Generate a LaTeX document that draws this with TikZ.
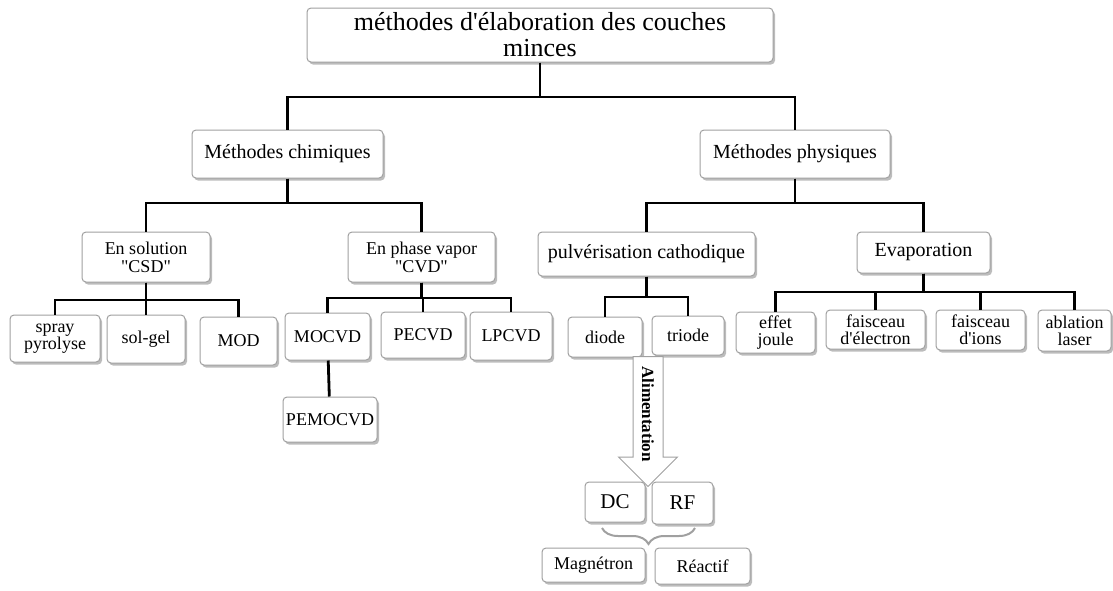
\documentclass[tikz,border=0pt]{standalone}
\usepackage{fontspec}
\setmainfont[Ligatures=TeXOff]{Liberation Serif}
\usetikzlibrary{positioning, shapes.arrows, shadows, decorations.pathreplacing, calc}
\definecolor{cframe}{HTML}{A0A0A0}
\definecolor{cshade}{HTML}{7A7A7A}
\tikzset{
  every picture/.style={line width=1pt},
  box/.style={draw=cframe, fill=white, rounded corners=4pt, align=center, inner sep=1pt,
    drop shadow={shadow xshift=2pt, shadow yshift=-2.5pt, fill=cshade, opacity=.5}},
  link/.style={draw=black, line width=2.8pt},
  brc/.style={draw=cframe, line width=2pt, decorate, decoration={brace, amplitude=16pt, mirror}},
}

\begin{document}
\begin{tikzpicture}[x=1pt, y=-1pt,
  lvlzero/.style={box, font=\fontsize{26}{26}\selectfont},
  lvlone/.style={box, font=\fontsize{20}{21}\selectfont},
  lvltwo/.style={box, font=\fontsize{18}{18}\selectfont},
  leaf/.style={box, font=\fontsize{18}{17}\selectfont},
  feed/.style={box, font=\fontsize{21}{21}\selectfont},
  alim/.style={single arrow, draw=cframe, fill=white, line width=1pt, rotate=-90,
    single arrow head extend=14.5pt, minimum height=130pt, text height=12pt, text depth=0pt,
    inner ysep=8.5pt, font=\bfseries\fontsize{17}{17}\selectfont}]
  \useasboundingbox (0,0) rectangle (1113,590);
  % ---------- title and the two families ----------
  \node[lvlzero, minimum width=466, minimum height=54] (top) at (540,35) {méthodes d'élaboration des couches\\minces};
  \node[lvlone, minimum width=191, minimum height=48] (chim) at (287.5,154) {Méthodes chimiques};
  \node[lvlone, minimum width=190, minimum height=48] (phys) at (795,154) {Méthodes physiques};
  % ---------- chemical side ----------
  \node[lvltwo, minimum width=128, minimum height=50] (sol) at (146,257) {En solution\\"CSD"};
  \node[lvltwo, minimum width=147, minimum height=50] (vap) at (421.5,257) {En phase vapor\\"CVD"};
  \node[leaf, minimum width=90, minimum height=47] (spray) at (55,338.5) {spray\\pyrolyse};
  \node[leaf, minimum width=78, minimum height=48] (solgel) at (146,339) {sol-gel};
  \node[leaf, minimum width=77, minimum height=48] (mod) at (238.5,341) {MOD};
  \node[leaf, minimum width=85, minimum height=47] (mocvd) at (327.5,336.5) {MOCVD};
  \node[leaf, minimum width=84, minimum height=46] (pecvd) at (423,335) {PECVD};
  \node[leaf, minimum width=82, minimum height=48] (lpcvd) at (511,336) {LPCVD};
  \node[leaf, minimum width=94, minimum height=45] (pemocvd) at (330,419.5) {PEMOCVD};
  % ---------- physical side ----------
  \node[lvlone, minimum width=217, minimum height=44] (pulv) at (646.5,254) {pulvérisation cathodique};
  \node[lvlone, minimum width=133, minimum height=41] (evap) at (923.5,252.5) {Evaporation};
  \node[leaf, minimum width=74, minimum height=40] (diode) at (605,337) {diode};
  \node[leaf, minimum width=72, minimum height=39] (triode) at (688,335.5) {triode};
  \node[leaf, minimum width=79, minimum height=41] (effet) at (775.5,332.5) {effet\\joule};
  \node[leaf, minimum width=99, minimum height=39] (felec) at (875.5,329.5) {faisceau\\d'électron};
  \node[leaf, minimum width=89, minimum height=40] (fions) at (980.5,330) {faisceau\\d'ions};
  \node[leaf, minimum width=73, minimum height=41] (ablat) at (1074.5,330.5) {ablation\\laser};
  % ---------- power supply ----------
  \node[alim, anchor=tail] (alimarrow) at (648,356) {Alimentation};
  \node[feed, minimum width=60, minimum height=40] (dc) at (615,502) {DC};
  \node[feed, minimum width=61, minimum height=42] (rf) at (682.5,503) {RF};
  \node[leaf, minimum width=103, minimum height=34] (mag) at (593.5,565) {Magnétron};
  \node[leaf, minimum width=95, minimum height=36] (rea) at (702.5,566) {Réactif};
  \coordinate (brl) at (602,528);
  \coordinate (brr) at (695,528);
  \draw[brc] (brl) -- (brr);
  % ---------- tree links ----------
  \foreach \c in {chim, phys} \draw[link] (top) -- (top |- 0,97) -| (\c);
  \foreach \c in {sol, vap} \draw[link] (chim) -- (chim |- 0,203) -| (\c);
  \foreach \c in {pulv, evap} \draw[link] (phys) -- (phys |- 0,203) -| (\c);
  \foreach \c in {spray, solgel, mod} \draw[link] (sol) -- (sol |- 0,300) -| (\c);
  \foreach \c in {mocvd, pecvd, lpcvd} \draw[link] (vap) -- (vap |- 0,298) -| (\c);
  \foreach \c in {diode, triode} \draw[link] (pulv) -- (pulv |- 0,297) -| (\c);
  \foreach \c in {effet, felec, fions, ablat} \draw[link] (evap) -- (evap |- 0,292) -| (\c);
  \draw[link] (mocvd) -- (pemocvd);
\end{tikzpicture}
\end{document}
